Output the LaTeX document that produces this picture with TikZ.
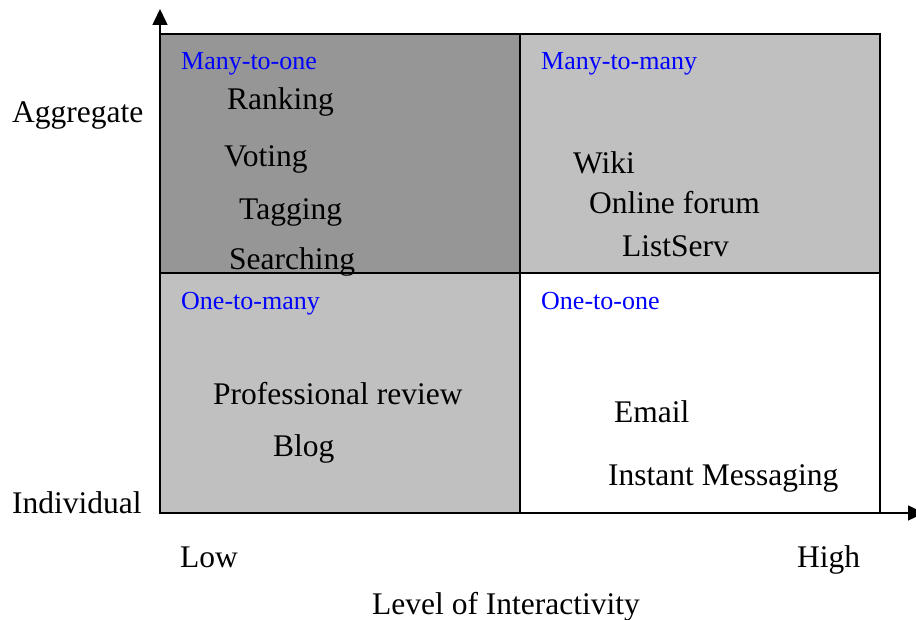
\documentclass[tikz,border=0pt]{standalone}
\usepackage{fontspec}
\setmainfont{Liberation Serif}
\usepackage{xcolor}
\usepackage{tikz}
\usetikzlibrary{arrows.meta}

\definecolor{cellDark}{RGB}{150,150,150}
\definecolor{cellLight}{RGB}{192,192,192}
\definecolor{kindBlue}{RGB}{0,0,255}

\begin{document}
\begin{tikzpicture}[
    x=1pt, y=1pt,
    cell/.style={draw, line width=1.5pt},
    axis/.style={line width=1.5pt, -{Triangle[length=16pt, width=15pt]}},
    kind/.style={anchor=base west, inner sep=0pt, text=kindBlue, font=\fontsize{26}{30}\selectfont},
    tool/.style={anchor=base west, inner sep=0pt, font=\fontsize{31.5}{36}\selectfont}
]
\useasboundingbox (0,0) rectangle (916,620);

% Quadrants
\filldraw[cell, fill=cellDark] (160,347) rectangle (520,586);
\filldraw[cell, fill=cellLight] (520,347) rectangle (880,586);
\filldraw[cell, fill=cellLight] (160,107) rectangle (520,347);
\filldraw[cell, fill=white] (520,107) rectangle (880,347);

% Axes
\coordinate (origin) at (160,107);
\coordinate (ytip) at (160,611);
\coordinate (xtip) at (924,107);
\draw[axis] (origin) -- (ytip);
\draw[axis] (origin) -- (xtip);

% Quadrant headings
\node[kind] (m2one) at (181,550) {Many-to-one};
\node[kind] (m2many) at (541,550) {Many-to-many};
\node[kind] (one2m) at (181,310) {One-to-many};
\node[kind] (one2one) at (541,310) {One-to-one};

% Many-to-one
\node[tool] (ranking) at (227,510) {Ranking};
\node[tool] (voting) at (224,453) {Voting};
\node[tool] (tagging) at (239,400) {Tagging};
\node[tool] (searching) at (229,350) {Searching};

% Many-to-many
\node[tool] (wiki) at (573,446) {Wiki};
\node[tool] (forum) at (589,406) {Online forum};
\node[tool] (listserv) at (622,363) {ListServ};

% One-to-many
\node[tool] (review) at (213,215) {Professional review};
\node[tool] (blog) at (273,163) {Blog};

% One-to-one
\node[tool] (email) at (614,197) {Email};
\node[tool] (im) at (608,134) {Instant Messaging};

% Axis labels
\node[tool] (aggregate) at (12,497) {Aggregate};
\node[tool] (individual) at (12,106) {Individual};
\node[tool] (low) at (180,52) {Low};
\node[tool] (high) at (797,52) {High};
\node[tool] (level) at (372,5) {Level of Interactivity};
\end{tikzpicture}
\end{document}
